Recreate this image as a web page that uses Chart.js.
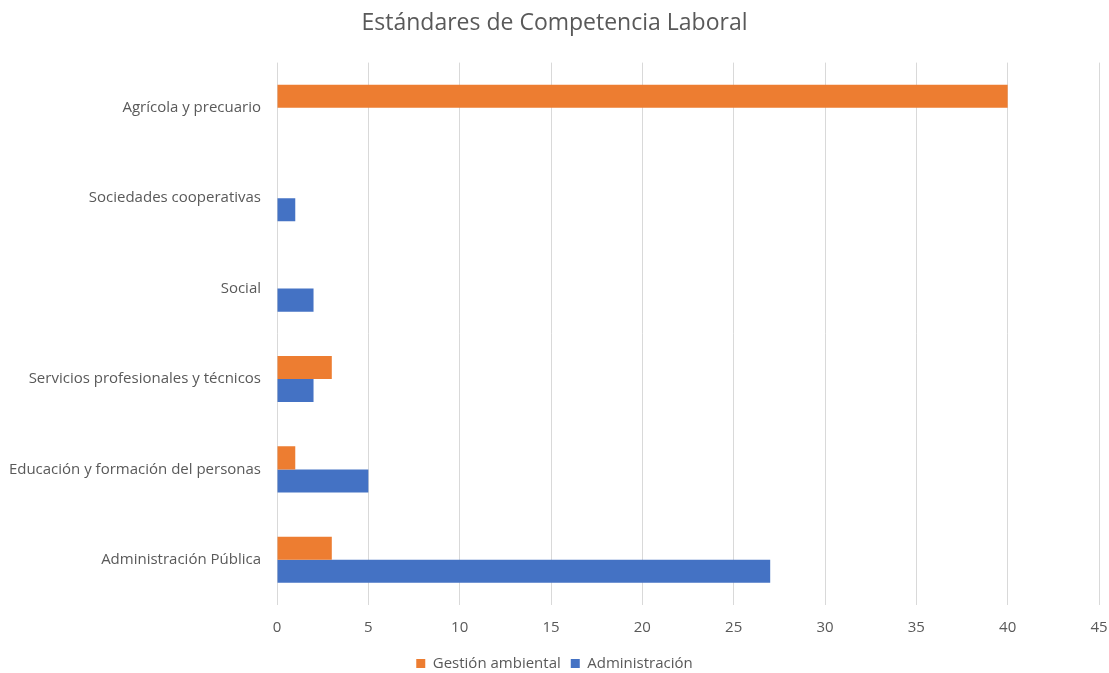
<!DOCTYPE html>
<html>
<head>
<meta charset="utf-8">
<script src="https://cdn.jsdelivr.net/npm/chart.js@4"></script>
<style>
  html, body { margin: 0; padding: 0; background: #fff; }
  #wrap { width: 1109px; height: 673px; }
</style>
</head>
<body>
<div id="wrap"><canvas id="chart"></canvas></div>
<script>
const categories = [
  'Agrícola y precuario',
  'Sociedades cooperativas',
  'Social',
  'Servicios profesionales y técnicos',
  'Educación y formación del personas',
  'Administración Pública'
];
const gestionAmbiental = [40, 0, 0, 3, 1, 3];
const administracion = [0, 1, 2, 2, 5, 27];
const xTicks = [0, 5, 10, 15, 20, 25, 30, 35, 40, 45];

const textColor = '#595959';
const fontFamily = '"Open Sans", "Segoe UI", sans-serif';

const ctx = document.getElementById('chart').getContext('2d');
new Chart(ctx, {
  type: 'bar',
  data: {
    labels: categories,
    datasets: [
      {
        label: 'Gestión ambiental',
        data: gestionAmbiental,
        backgroundColor: '#ED7D31',
        categoryPercentage: 0.51,
        barPercentage: 1
      },
      {
        label: 'Administración',
        data: administracion,
        backgroundColor: '#4472C4',
        categoryPercentage: 0.51,
        barPercentage: 1
      }
    ]
  },
  options: {
    indexAxis: 'y',
    responsive: true,
    maintainAspectRatio: false,
    animation: false,
    layout: { padding: { left: 0, right: 0, top: 0, bottom: -8 } },
    plugins: {
      title: {
        display: true,
        text: 'Estándares de Competencia Laboral',
        color: textColor,
        font: { family: fontFamily, size: 23, weight: 'normal' },
        padding: { top: 10, bottom: 25 }
      },
      legend: {
        position: 'bottom',
        labels: {
          color: textColor,
          font: { family: fontFamily, size: 15 },
          boxWidth: 9,
          boxHeight: 9,
          padding: 10
        }
      },
      tooltip: { enabled: false }
    },
    scales: {
      x: {
        min: 0,
        max: 45,
        afterBuildTicks: (axis) => { axis.ticks = xTicks.map(v => ({ value: v })); },
        afterFit: (axis) => {
          axis.paddingRight = 10;
          axis.height = 41;
        },
        grid: { color: '#d9d9d9', drawTicks: false },
        border: { display: false },
        ticks: {
          color: textColor,
          font: { family: fontFamily, size: 15 },
          padding: 14
        }
      },
      y: {
        grid: { display: false },
        border: { display: false },
        afterFit: (axis) => { axis.width = 277; },
        ticks: {
          color: textColor,
          font: { family: fontFamily, size: 15 },
          padding: 8
        }
      }
    }
  }
});
</script>
</body>
</html>
